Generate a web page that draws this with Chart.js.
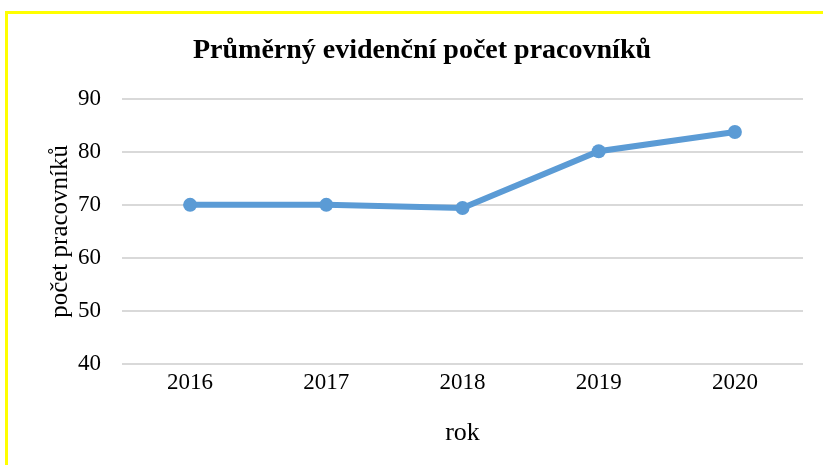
<!DOCTYPE html>
<html>
<head>
<meta charset="utf-8">
<script src="https://cdn.jsdelivr.net/npm/chart.js@4"></script>
<style>
  html, body { margin: 0; padding: 0; background: #fff; }
  #wrap { position: relative; width: 823px; height: 465px; overflow: hidden; }
  #ramecek {
    position: absolute; left: 5px; top: 11px; right: -10px; bottom: -10px;
    border-top: 3px solid #FFFF00; border-left: 3px solid #FFFF00;
    pointer-events: none;
  }
</style>
</head>
<body>
<div id="wrap">
  <canvas id="graf" width="823" height="465"></canvas>
  <div id="ramecek"></div>
</div>
<script>
// data z grafu
const roky = ['2016', '2017', '2018', '2019', '2020'];
const pocetPracovniku = [70, 70, 69.4, 80.1, 83.7];
const osaYMin = 40;
const osaYMax = 90;

const pismo = "'Liberation Serif', 'Times New Roman', serif";

const ctx = document.getElementById('graf');

new Chart(ctx, {
    type: 'line',
    data: {
        labels: roky,
        datasets: [{
            label: 'Průměrný evidenční počet pracovníků',
            data: pocetPracovniku,
            borderColor: '#5B9BD5',
            backgroundColor: '#5B9BD5',
            borderWidth: 6,
            pointRadius: 7,
            pointBorderWidth: 0,
            tension: 0
        }]
    },
    options: {
        responsive: false,
        animation: false,
        layout: {
            padding: { left: 41, right: 20, top: 0, bottom: 12 }
        },
        plugins: {
            legend: { display: false },
            tooltip: { enabled: false },
            title: {
                display: true,
                text: 'Průměrný evidenční počet pracovníků',
                color: '#000',
                font: { family: pismo, size: 28, weight: 'bold' },
                padding: { top: 34, bottom: 31 }
            }
        },
        scales: {
            x: {
                offset: true,
                grid: { display: false, drawTicks: false },
                border: { display: false },
                ticks: {
                    color: '#000',
                    padding: 5,
                    font: { family: pismo, size: 23 }
                },
                title: {
                    display: true,
                    text: 'rok',
                    color: '#000',
                    font: { family: pismo, size: 26 },
                    padding: { top: 16, bottom: 4 }
                }
            },
            y: {
                min: osaYMin,
                max: osaYMax,
                grid: { color: '#D9D9D9', lineWidth: 2, drawTicks: false },
                border: { display: false },
                ticks: {
                    stepSize: 10,
                    color: '#000',
                    padding: 21,
                    font: { family: pismo, size: 23 }
                },
                title: {
                    display: true,
                    text: 'počet pracovníků',
                    color: '#000',
                    font: { family: pismo, size: 25 },
                    padding: { top: 4, bottom: -18 }
                }
            }
        }
    }
});
</script>
</body>
</html>
